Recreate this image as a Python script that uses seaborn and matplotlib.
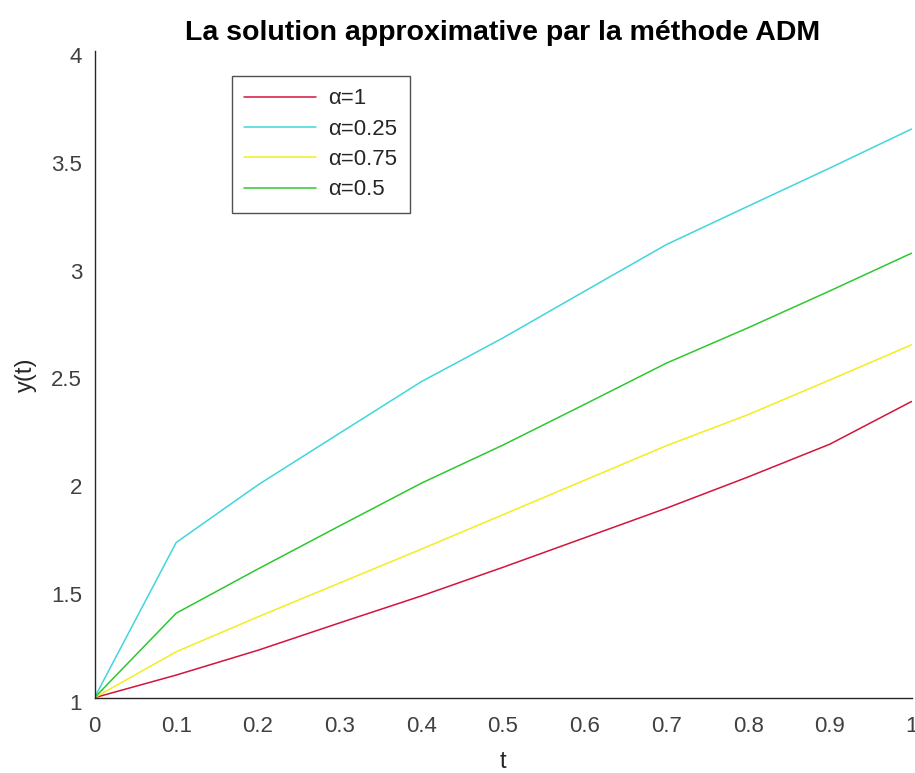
import numpy as np
import pandas as pd
import matplotlib
matplotlib.use('Agg')
import matplotlib.pyplot as plt
import matplotlib.transforms as mtransforms
from matplotlib.ticker import FuncFormatter
import seaborn as sns

# values (ADM approximation, one curve per alpha)
t = [0.0, 0.1, 0.2, 0.3, 0.4, 0.5, 0.6, 0.7, 0.8, 0.9, 1.0]
y_a1 = [1.0, 1.105, 1.22, 1.347, 1.472, 1.605, 1.742, 1.879, 2.024, 2.176, 2.374]
y_a025 = [1.0, 1.72, 1.987, 2.227, 2.466, 2.669, 2.886, 3.102, 3.28, 3.457, 3.638]
y_a075 = [1.0, 1.213, 1.375, 1.532, 1.689, 1.849, 2.009, 2.169, 2.313, 2.474, 2.637]
y_a05 = [1.0, 1.392, 1.597, 1.797, 1.995, 2.172, 2.361, 2.552, 2.716, 2.887, 3.062]
labels = ['α=1', 'α=0.25', 'α=0.75', 'α=0.5']
colors = ['#d4143a', '#3fd6dc', '#f2ee1e', '#2ec82e']

series = [y_a1, y_a025, y_a075, y_a05]
df = pd.concat([pd.DataFrame({'t': t, 'y': s, 'alpha': lab}) for s, lab in zip(series, labels)],
               ignore_index=True)

sns.set_style("white")
plt.rcParams['font.family'] = ['Liberation Sans', 'DejaVu Sans']

fig = plt.figure(figsize=(9.15, 7.73), dpi=100)
ax = fig.add_axes([94.5 / 915, (773 - 697.7) / 773, 817 / 915, (697.7 - 51) / 773])

sns.lineplot(data=df, x='t', y='y', hue='alpha', hue_order=labels,
             palette=dict(zip(labels, colors)), linewidth=1.1, ax=ax)

ax.set_xlim(0, 1)
ax.set_ylim(1, 4)
ax.set_xticks(np.arange(0, 1.01, 0.1))
ax.set_yticks(np.arange(1, 4.01, 0.5))
fmt = FuncFormatter(lambda v, p: '{:g}'.format(round(v, 2)))
ax.xaxis.set_major_formatter(fmt)
ax.yaxis.set_major_formatter(fmt)
ax.tick_params(direction='in', length=6, width=1, colors='#262626',
               labelsize=16, labelcolor='#404040')
ax.tick_params(axis='x', pad=13)
ax.tick_params(axis='y', pad=9)
# matlab-like: y tick labels sit a little below their ticks
shift = mtransforms.ScaledTranslation(0, -4 / 100, fig.dpi_scale_trans)
for lab in ax.get_yticklabels():
    lab.set_transform(lab.get_transform() + shift)

for s in ['top', 'right']:
    ax.spines[s].set_visible(False)
for s in ['left', 'bottom']:
    ax.spines[s].set_color('#262626')
    ax.spines[s].set_linewidth(1)

ax.set_xlabel('t', fontsize=17, color='#262626', labelpad=10)
ax.set_ylabel('y(t)', fontsize=17, color='#262626', labelpad=10)
ax.set_title('La solution approximative par la méthode ADM', fontsize=20.5,
             fontweight='bold', color='black', pad=8)

leg = ax.legend(loc='upper left', bbox_to_anchor=(0.168, 0.961), borderaxespad=0,
                fontsize=16, frameon=True, fancybox=False, handlelength=3.25,
                handletextpad=0.55, borderpad=0.55, labelspacing=0.42)
leg.get_frame().set_edgecolor('#262626')
leg.get_frame().set_linewidth(1)
for txt in leg.get_texts():
    txt.set_color('#262626')

fig.savefig('out.png', dpi=100)
